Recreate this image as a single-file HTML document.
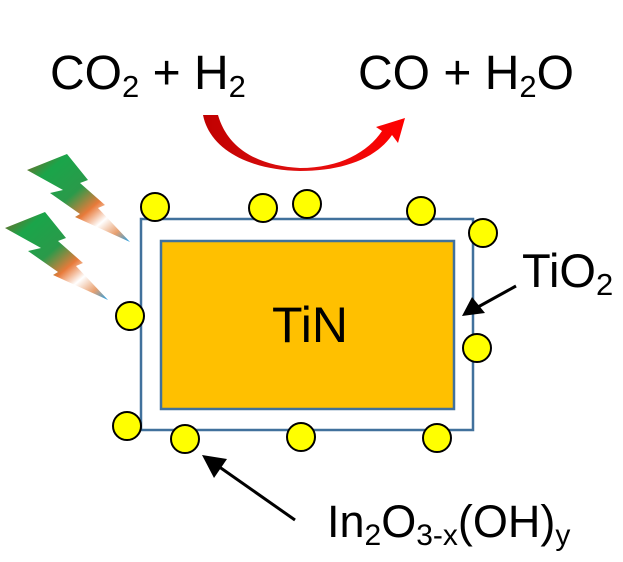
<!DOCTYPE html>
<html><head><meta charset="utf-8"><style>
html,body{margin:0;padding:0;background:#fff;}
svg{display:block;}
text{font-family:"Liberation Sans",Arial,sans-serif;fill:#000;}
</style></head><body>
<svg width="623" height="562" viewBox="0 0 623 562" xmlns="http://www.w3.org/2000/svg">
<defs>
<linearGradient id="bolt" x1="0" y1="0" x2="1" y2="1">
<stop offset="0" stop-color="#8a5a20"/>
<stop offset="0.2" stop-color="#1aa54a"/>
<stop offset="0.45" stop-color="#2a9a4a"/>
<stop offset="0.62" stop-color="#e87a3a"/>
<stop offset="0.75" stop-color="#fff"/>
<stop offset="0.88" stop-color="#e8a070"/>
<stop offset="1" stop-color="#1a9ee8"/>
</linearGradient>
<linearGradient id="red" x1="0" y1="0" x2="1" y2="0">
<stop offset="0" stop-color="#c00000"/>
<stop offset="0.5" stop-color="#e01010"/>
<stop offset="1" stop-color="#ff0000"/>
</linearGradient>
<g id="b"><path d="M27,170 L67,154 L88,180 L80,183 L105,205 L98,208 L130,242 L75,217 L80,214 L50,193 L63,190 Z" fill="url(#bolt)"/></g>
</defs>
<use href="#b"/>
<use href="#b" transform="translate(-22,58)"/>
<path d="M203,115 L218,115 C228,150 260,166 300,168 C340,168 368,152 382,131 L376,127 L405,118 L398,143 L392,135 C375,160 340,171 300,171 C250,170 210,150 203,115 Z" fill="url(#red)"/>
<rect x="141" y="219" width="332" height="211" fill="#fff" stroke="#41719c" stroke-width="2.5"/>
<rect x="161" y="241" width="293" height="168" fill="#ffc000" stroke="#41719c" stroke-width="2.5"/>
<g fill="#ffff00" stroke="#000" stroke-width="2">
<circle cx="155" cy="207" r="14"/><circle cx="263" cy="208" r="14"/><circle cx="307" cy="204" r="14"/>
<circle cx="421" cy="211" r="14"/><circle cx="483" cy="233" r="14"/><circle cx="130" cy="316" r="14"/>
<circle cx="477" cy="348" r="14"/><circle cx="127" cy="426" r="14"/><circle cx="185" cy="439" r="14"/>
<circle cx="301" cy="437" r="14"/><circle cx="437" cy="438" r="14"/>
</g>
<line x1="516" y1="286" x2="478" y2="307" stroke="#000" stroke-width="3"/>
<polygon points="462,316 472,297 485,313" fill="#000"/>
<line x1="295" y1="520" x2="218" y2="466" stroke="#000" stroke-width="3"/>
<polygon points="202,455 227,459 214,478" fill="#000"/>
<text x="50" y="89" font-size="48">CO<tspan font-size="31" dy="8">2</tspan><tspan dy="-8"> + H</tspan><tspan font-size="31" dy="8">2</tspan></text>
<text x="358" y="89" font-size="48">CO + H<tspan font-size="31" dy="8">2</tspan><tspan dy="-8">O</tspan></text>
<text x="310" y="342" font-size="50" text-anchor="middle">TiN</text>
<text x="522" y="287" font-size="47">TiO<tspan font-size="31" dy="8">2</tspan></text>
<text x="327" y="537" font-size="45">In<tspan font-size="30" dy="8">2</tspan><tspan dy="-8">O</tspan><tspan font-size="30" dy="8">3-x</tspan><tspan dy="-8">(OH)</tspan><tspan font-size="30" dy="8">y</tspan></text>
</svg>
</body></html>
